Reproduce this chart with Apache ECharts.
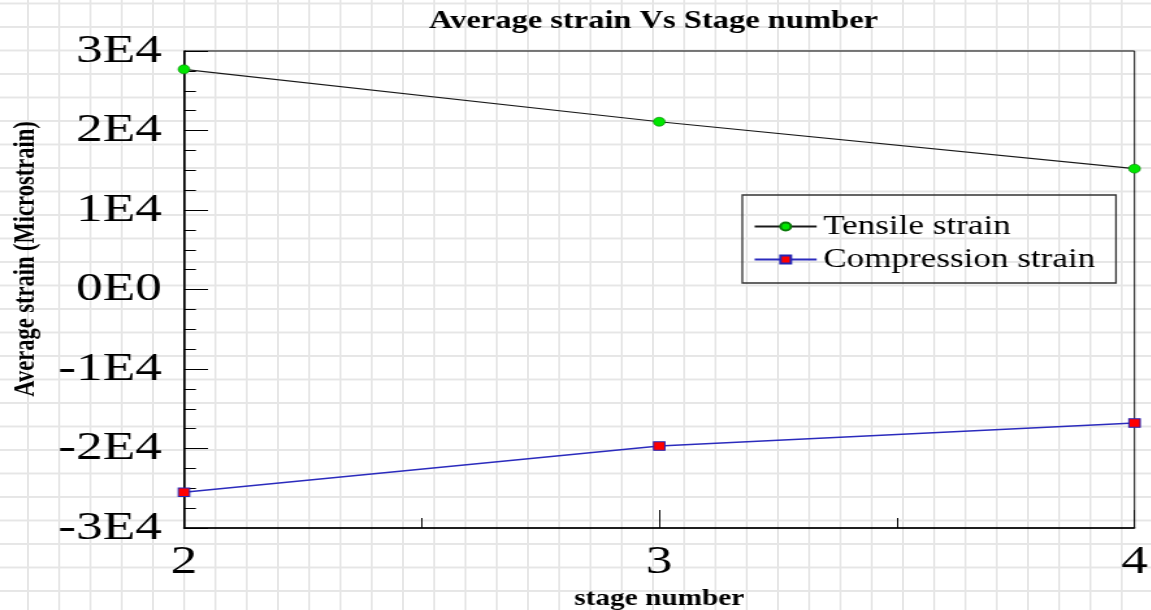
<!DOCTYPE html>
<html>
<head>
<meta charset="utf-8">
<title>Average strain Vs Stage number</title>
<script src="https://cdn.jsdelivr.net/npm/echarts@6/dist/echarts.min.js"></script>
<style>
  html, body {
    margin: 0;
    padding: 0;
    width: 1151px;
    height: 610px;
    overflow: hidden;
    background-color: #ffffff;
    /* worksheet cell grid behind the chart */
    background-image:
      linear-gradient(to right, #e6e6e6 2px, transparent 2px),
      linear-gradient(to bottom, #e6e6e6 2px, transparent 2px);
    background-size: 31.25px 23.5px;
    background-position: -4.25px 2.5px;
  }
  /* the chart is laid out narrower and stretched sideways */
  #chart {
    width: 885.4px;
    height: 610px;
    transform: scaleX(1.3);
    transform-origin: 0 0;
  }
</style>
</head>
<body>
<div id="chart"></div>
<script>
// Stage numbers on the x axis
const stages = [2, 3, 4];
// Average strain per stage (microstrain)
const tensileStrain = [27700, 21100, 15200];
const compressionStrain = [-25500, -19700, -16800];
// Tick labels on the y axis, bottom to top
const yTickLabels = ['-3E4', '-2E4', '-1E4', '0E0', '1E4', '2E4', '3E4'];
const yMin = -30000;
const yMax = 30000;
const yStep = 10000;

const serif = '"Liberation Serif", "Times New Roman", serif';

const chart = echarts.init(document.getElementById('chart'), null, { renderer: 'canvas' });

const option = {
  backgroundColor: 'transparent',
  animation: false,
  title: {
    text: 'Average strain Vs Stage number',
    left: 330,
    top: 9,
    padding: 0,
    textStyle: {
      fontFamily: serif,
      fontSize: 25,
      fontWeight: 'bold',
      color: '#000'
    }
  },
  legend: {
    orient: 'vertical',
    left: 571,
    top: 195,
    padding: [18, 16, 10, 8.5],
    itemGap: 6,
    itemWidth: 47.7,
    itemHeight: 10,
    borderColor: '#333',
    borderWidth: 1.3,
    backgroundColor: 'transparent',
    textStyle: {
      fontFamily: serif,
      fontSize: 27,
      color: '#000'
    },
    data: ['Tensile strain', 'Compression strain']
  },
  grid: {
    show: true,
    left: 141.5,
    right: 12.3,
    top: 51,
    bottom: 82,
    borderColor: '#000',
    borderWidth: 1,
    backgroundColor: 'transparent',
    containLabel: false,
    outerBoundsMode: 'none'
  },
  xAxis: {
    type: 'value',
    min: stages[0],
    max: stages[stages.length - 1],
    interval: 1,
    name: 'stage number',
    nameLocation: 'middle',
    nameGap: 58,
    nameTextStyle: {
      fontFamily: serif,
      fontSize: 22.5,
      fontWeight: 'bold',
      color: '#000'
    },
    axisLine: { show: true, onZero: false, lineStyle: { color: '#000', width: 1.5 } },
    axisTick: { show: true, inside: true, length: 18, lineStyle: { color: '#000', width: 1 } },
    minorTick: { show: true, splitNumber: 2, length: 10, lineStyle: { color: '#000', width: 1 } },
    splitLine: { show: false },
    axisLabel: {
      margin: 14,
      fontFamily: serif,
      fontSize: 41,
      color: '#000'
    }
  },
  yAxis: {
    type: 'value',
    min: yMin,
    max: yMax,
    interval: yStep,
    name: 'Average strain (Microstrain)',
    nameLocation: 'middle',
    nameRotate: 90,
    nameGap: 110,
    nameTextStyle: {
      fontFamily: serif,
      fontSize: 22.5,
      fontWeight: 'bold',
      color: '#000',
      padding: [0, 0, 0, 61]
    },
    axisLine: { show: true, onZero: false, lineStyle: { color: '#000', width: 1.5 } },
    axisTick: { show: true, inside: true, length: 18.5, lineStyle: { color: '#000', width: 1 } },
    minorTick: { show: true, splitNumber: 4, length: 9.2, lineStyle: { color: '#000', width: 1 } },
    splitLine: { show: false },
    axisLabel: {
      margin: 17,
      fontFamily: serif,
      fontSize: 41,
      color: '#000',
      formatter: function (v) {
        return yTickLabels[Math.round((v - yMin) / yStep)];
      }
    }
  },
  series: [
    {
      name: 'Tensile strain',
      type: 'line',
      data: stages.map((s, i) => [s, tensileStrain[i]]),
      symbol: 'circle',
      symbolSize: 9,
      clip: false,
      lineStyle: { color: '#1a1a1a', width: 1.2 },
      itemStyle: { color: '#00e600', borderColor: '#0a7a0a', borderWidth: 0.6 },
      z: 3
    },
    {
      name: 'Compression strain',
      type: 'line',
      data: stages.map((s, i) => [s, compressionStrain[i]]),
      symbol: 'rect',
      symbolSize: [8.7, 8.5],
      clip: false,
      lineStyle: { color: '#2b2bbd', width: 1.5 },
      itemStyle: { color: '#ff0000', borderColor: '#2525b5', borderWidth: 1 },
      z: 3
    }
  ]
};

chart.setOption(option);
</script>
</body>
</html>
